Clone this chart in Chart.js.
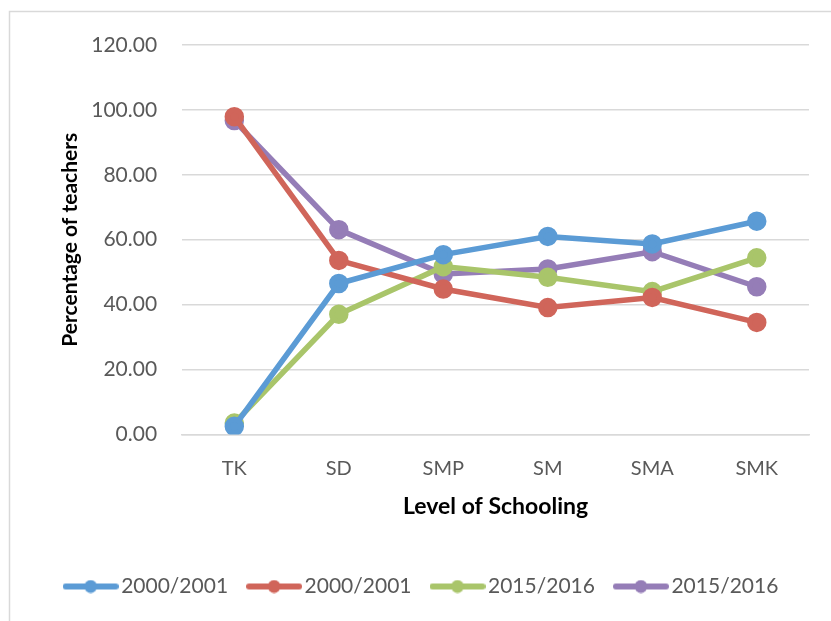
<!DOCTYPE html>
<html>
<head>
<meta charset="utf-8">
<script src="https://cdn.jsdelivr.net/npm/chart.js@4/dist/chart.umd.min.js"></script>
<style>
  html, body { margin: 0; padding: 0; background: #fff; }
  #wrap { width: 831px; height: 621px; }
</style>
</head>
<body>
<div id="wrap"><canvas id="chart" width="831" height="621"></canvas></div>
<script>
const levels = ['TK', 'SD', 'SMP', 'SM', 'SMA', 'SMK'];
const seriesNames = ['2000/2001', '2000/2001', '2015/2016', '2015/2016'];
const seriesColors = ['#5B9BD5', '#D0655A', '#A9C56A', '#957DB7'];
const blue2000 = [2.5, 46.5, 55.4, 61.0, 58.7, 65.7];
const red2000 = [97.9, 53.6, 44.8, 39.1, 42.2, 34.5];
const green2015 = [3.5, 37.0, 51.7, 48.4, 44.0, 54.4];
const purple2015 = [96.7, 63.1, 49.4, 51.0, 56.3, 45.5];
const yTicks = [0, 20, 40, 60, 80, 100, 120];

const FONT = 'Lato, "Open Sans", sans-serif';

// little line-with-dot marker for the legend
function legendMarker(color) {
    const c = document.createElement('canvas');
    c.width = 56; c.height = 14;
    const g = c.getContext('2d');
    g.strokeStyle = color;
    g.lineWidth = 6;
    g.lineCap = 'round';
    g.beginPath(); g.moveTo(3, 7); g.lineTo(53, 7); g.stroke();
    g.fillStyle = color;
    g.beginPath(); g.arc(28, 7, 6.5, 0, Math.PI * 2); g.fill();
    return c;
}

const outerBox = {
    id: 'outerBox',
    beforeDraw(chart) {
        const ctx = chart.ctx;
        ctx.save();
        ctx.fillStyle = '#fff';
        ctx.fillRect(0, 0, chart.width, chart.height);
        ctx.strokeStyle = '#d9d9d9';
        ctx.lineWidth = 1.5;
        ctx.strokeRect(9.5, 11.5, chart.width + 20, chart.height + 20);
        ctx.restore();
    }
};

const allData = [blue2000, red2000, green2015, purple2015];

new Chart(document.getElementById('chart'), {
    type: 'line',
    data: {
        labels: levels,
        datasets: allData.map((d, i) => ({
            label: seriesNames[i],
            data: d,
            borderColor: seriesColors[i],
            backgroundColor: seriesColors[i],
            borderWidth: 5.5,
            pointRadius: 7,
            pointHoverRadius: 7,
            pointStyle: 'circle',
            tension: 0,
            fill: false
        }))
    },
    options: {
        responsive: false,
        animation: false,
        layout: { padding: { left: 40, right: 22, top: 45, bottom: 14 } },
        plugins: {
            tooltip: { enabled: false },
            legend: {
                position: 'bottom',
                labels: {
                    usePointStyle: true,
                    pointStyleWidth: 40,
                    boxHeight: 14,
                    padding: 26,
                    color: '#595959',
                    font: { family: FONT, size: 21 },
                    generateLabels(chart) {
                        return chart.data.datasets.map((ds, i) => ({
                            text: ds.label,
                            pointStyle: legendMarker(seriesColors[i]),
                            fillStyle: seriesColors[i],
                            strokeStyle: seriesColors[i],
                            lineWidth: 0,
                            fontColor: '#595959',
                            datasetIndex: i,
                            hidden: false
                        }));
                    }
                }
            }
        },
        scales: {
            x: {
                offset: true,
                grid: { display: false, drawTicks: false },
                border: { display: true, color: '#d9d9d9', width: 1.5 },
                ticks: { color: '#595959', font: { family: FONT, size: 20 }, padding: 22 },
                title: {
                    display: true,
                    text: 'Level of Schooling',
                    color: '#000',
                    font: { family: FONT, size: 23, weight: 'bold' },
                    padding: { top: -10, bottom: 30 }
                }
            },
            y: {
                min: 0,
                max: 120,
                afterBuildTicks(scale) { scale.ticks = yTicks.map(v => ({ value: v })); },
                grid: { color: '#d9d9d9', lineWidth: 1.5, drawTicks: false },
                border: { display: false },
                ticks: {
                    color: '#595959',
                    font: { family: FONT, size: 21 },
                    padding: 25,
                    callback: v => Number(v).toFixed(2)
                },
                title: {
                    display: true,
                    text: 'Percentage of teachers',
                    color: '#000',
                    font: { family: FONT, size: 21, weight: 'bold' },
                    padding: { top: 18, bottom: -17 }
                }
            }
        }
    },
    plugins: [outerBox]
});
</script>
</body>
</html>
